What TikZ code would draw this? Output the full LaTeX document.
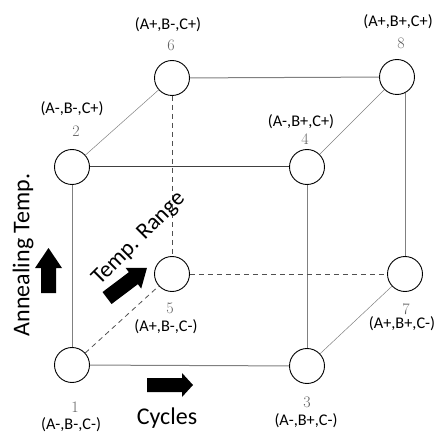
\documentclass[tikz,border=0pt]{standalone}
\usepackage{fontspec}
\setmainfont{Carlito}
\newfontfamily\numfont{Latin Modern Roman}
\definecolor{cbEdge}{HTML}{808080}
\definecolor{cbDark}{HTML}{404040}
\definecolor{cbHidden}{HTML}{505050}
\definecolor{cbNum}{HTML}{606060}
\usetikzlibrary{calc,positioning,arrows.meta}

\begin{document}
\begin{tikzpicture}[x=1pt,y=-1pt,
  vtx/.style={circle, draw=black, line width=0.9pt, fill=white, minimum size=35pt, inner sep=0pt},
  edge/.style={cbEdge, line width=1pt},
  hidden/.style={cbHidden, line width=0.8pt, dash pattern=on 5pt off 4pt},
  depth/.style={cbEdge, line width=0.5pt},
  num/.style={text=cbNum, inner sep=0pt, font=\numfont\fontsize{16}{16}\selectfont},
  coord/.style={inner sep=0pt, font=\fontsize{16.3}{17}\selectfont},
  axis/.style={inner sep=0pt, font=\fontsize{24}{26}\selectfont}]
  \useasboundingbox (0,0) rectangle (440,436);

  % corners
  \node[vtx] (n1) at (72,365) {};
  \node[vtx] (n2) at (72,167) {};
  \node[vtx] (n3) at (307,366) {};
  \node[vtx] (n4) at (307,167) {};
  \node[vtx] (n5) at (172,274) {};
  \node[vtx] (n6) at (172,78) {};
  \node[vtx] (n7) at (405,274) {};
  \node[vtx] (n8) at (397,77) {};

  % front and back faces
  \draw[edge] (n1) -- (n3);
  \draw[edge] (n1) -- (n2);
  \draw[edge] (n3) -- (n4);
  \draw[edge, cbDark] (n2) -- (n4);
  \draw[edge] (n6) -- (n8);
  \draw[edge] (n8.-63) -- (n8.-63 |- n7.north);

  % hidden edges
  \draw[hidden] (n6) -- (n5);
  \draw[hidden] (n5) -- (n7);
  \draw[hidden] (n1) -- (n5);

  % depth edges
  \draw[depth] (n2) -- (n6);
  \draw[depth] (n4) -- (n8);
  \draw[depth] (n3) -- (n7);

  % numbers and levels
  \node[num] (t1) at (75,407) {1};
  \node[coord] (c1) at (71,425) {(A-,B-,C-)};
  \node[num] (t2) at (76,131) {2};
  \node[coord] (c2) at (72,109) {(A-,B-,C+)};
  \node[num] (t3) at (307,402) {3};
  \node[coord] (c3) at (306,421) {(A-,B+,C-)};
  \node[num] (t4) at (305,139) {4};
  \node[coord] (c4) at (301,122) {(A-,B+,C+)};
  \node[num] (t5) at (170,308) {5};
  \node[coord] (c5) at (166,327) {(A+,B-,C-)};
  \node[num] (t6) at (171,45) {6};
  \node[coord] (c6) at (168,25) {(A+,B-,C+)};
  \node[num] (t7) at (406,309) {7};
  \node[coord] (c7) at (402,324) {(A+,B+,C-)};
  \node[num] (t8) at (401,43) {8};
  \node[coord] (c8) at (398,22) {(A+,B+,C+)};

  % factor arrows
  \fill[black] (41,293) -- (41,268) -- (35,268) -- (48.5,248) -- (62,268) -- (56,268) -- (56,293) -- cycle;
  \fill[black] (147,378) -- (182,378) -- (182,373) -- (193,385) -- (182,397) -- (182,392) -- (147,392) -- cycle;
  \fill[black, shift={(127,283)}, rotate=37] (-25,-7.5) -- (8,-7.5) -- (8,-13) -- (25,0) -- (8,13) -- (8,7.5) -- (-25,7.5) -- cycle;

  \node[axis, rotate=90] (anneal) at (23,255) {Annealing Temp.};
  \node[axis, rotate=45, font=\fontsize{23}{25}\selectfont] (range) at (139,239) {Temp. Range};
  \node[axis] (cycles) at (167,418) {Cycles};
\end{tikzpicture}
\end{document}
